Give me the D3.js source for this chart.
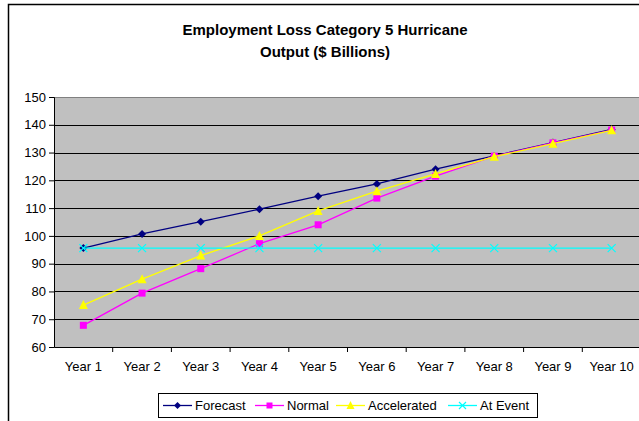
<!DOCTYPE html>
<html>
<head>
<meta charset="utf-8">
<script src="https://cdn.jsdelivr.net/npm/d3@7"></script>
<style>
  body { margin: 0; background: #fff; }
  svg { display: block; font-family: Arial, "Liberation Sans", sans-serif; }
</style>
</head>
<body>
<svg id="chart" width="639" height="421"></svg>
<script>
// chart data
const years = ["Year 1", "Year 2", "Year 3", "Year 4", "Year 5", "Year 6", "Year 7", "Year 8", "Year 9", "Year 10"];
const forecast = [95.6, 100.7, 105.1, 109.6, 114.3, 118.7, 124.0, 128.8, 133.6, 138.3];
const normal = [67.8, 79.4, 88.2, 97.2, 104.0, 113.6, 121.5, 128.7, 133.5, 138.1];
const accelerated = [75.1, 84.4, 92.9, 100.0, 109.0, 116.1, 122.3, 128.5, 133.2, 138.0];
const atEvent = [95.6, 95.6, 95.6, 95.6, 95.6, 95.6, 95.6, 95.6, 95.6, 95.6];
const yTicks = [60, 70, 80, 90, 100, 110, 120, 130, 140, 150];

const series = [
    {name: "Forecast", values: forecast, color: "#000080", symbol: "diamond"},
    {name: "Normal", values: normal, color: "#FF00FF", symbol: "square"},
    {name: "Accelerated", values: accelerated, color: "#FFFF00", symbol: "triangle"},
    {name: "At Event", values: atEvent, color: "#00FFFF", symbol: "cross"}
];

const svg = d3.select("#chart");
const margin = {top: 97, right: -2, bottom: 74, left: 54};
const width = 639, height = 421;
const font = "Arial, 'Liberation Sans', sans-serif";

// outer chart frame (chart continues off the right/bottom edge)
svg.append("path")
    .attr("d", "M8.5,421 V4.5 H640")
    .attr("fill", "none")
    .attr("stroke", "#000")
    .attr("stroke-width", 1.5);

const x = d3.scaleBand()
    .domain(years)
    .range([margin.left, width - margin.right]);

const y = d3.scaleLinear()
    .domain([60, 150])
    .range([height - margin.bottom, margin.top]);

// plot area
svg.append("rect")
    .attr("x", margin.left)
    .attr("y", margin.top)
    .attr("width", width - margin.right - margin.left)
    .attr("height", height - margin.bottom - margin.top)
    .attr("fill", "#C0C0C0");

// gridlines
svg.append("g")
    .selectAll("line")
    .data(yTicks.filter(d => d > 60))
    .enter().append("line")
    .attr("x1", margin.left)
    .attr("x2", width)
    .attr("y1", d => Math.round(y(d)) + 0.5)
    .attr("y2", d => Math.round(y(d)) + 0.5)
    .attr("stroke", d => d === 150 ? "#808080" : "#000")
    .attr("stroke-width", 1);

// axes
const yAxis = d3.axisLeft(y).tickValues(yTicks).tickSize(5).tickPadding(3);
const gy = svg.append("g")
    .attr("transform", `translate(${margin.left},0)`)
    .call(yAxis);
gy.select(".domain").attr("stroke", "#000");
gy.selectAll("text").attr("font-size", 13).attr("fill", "#000").attr("font-family", font);

const xAxis = d3.axisBottom(x).tickSize(0).tickPadding(15);
const gx = svg.append("g")
    .attr("transform", `translate(0,${height - margin.bottom})`)
    .call(xAxis);
gx.select(".domain").attr("stroke", "#000");
gx.selectAll("text").attr("font-size", 13).attr("fill", "#000").attr("font-family", font);

// tick marks between categories
gx.append("g")
    .selectAll("line")
    .data(years.slice(1))
    .enter().append("line")
    .attr("x1", d => x(d))
    .attr("x2", d => x(d))
    .attr("y1", 0)
    .attr("y2", 5)
    .attr("stroke", "#000");

const cx = d => x(d) + x.bandwidth() / 2;

const line = d3.line()
    .x((d, i) => cx(years[i]))
    .y(d => y(d));

function drawMarker(g, symbol, color, px, py, s) {
    if (symbol === "diamond") {
        g.append("path")
            .attr("d", `M${px},${py - s} L${px + s},${py} L${px},${py + s} L${px - s},${py} Z`)
            .attr("fill", color);
    } else if (symbol === "square") {
        g.append("rect")
            .attr("x", px - s + 0.5).attr("y", py - s + 0.5)
            .attr("width", 2 * s - 1).attr("height", 2 * s - 1)
            .attr("fill", color);
    } else if (symbol === "triangle") {
        g.append("path")
            .attr("d", `M${px},${py - s - 1} L${px + s + 0.5},${py + s} L${px - s - 0.5},${py + s} Z`)
            .attr("fill", color);
    } else if (symbol === "cross") {
        g.append("path")
            .attr("d", `M${px - s},${py - s} L${px + s},${py + s} M${px - s},${py + s} L${px + s},${py - s}`)
            .attr("stroke", color)
            .attr("stroke-width", 1.2)
            .attr("fill", "none");
    }
}

series.forEach(s => {
    const g = svg.append("g");
    g.append("path")
        .datum(s.values)
        .attr("d", line)
        .attr("fill", "none")
        .attr("stroke", s.color)
        .attr("stroke-width", 1.3);
    s.values.forEach((v, i) => drawMarker(g, s.symbol, s.color, cx(years[i]), y(v), 4));
});

// title
const title = svg.append("text")
    .attr("x", 325)
    .attr("y", 35)
    .attr("text-anchor", "middle")
    .attr("font-size", 15)
    .attr("font-weight", "bold");
title.append("tspan").attr("x", 325).text("Employment Loss Category 5 Hurricane");
title.append("tspan").attr("x", 325).attr("dy", 22).text("Output ($ Billions)");

// legend
const legend = svg.append("g");
legend.append("rect")
    .attr("x", 158.5)
    .attr("y", 393.5)
    .attr("width", 379)
    .attr("height", 24)
    .attr("fill", "#fff")
    .attr("stroke", "#000");

const legendX = [163, 255, 336, 448];
series.forEach((s, i) => {
    const lx = legendX[i], ly = 405.5;
    legend.append("line")
        .attr("x1", lx).attr("x2", lx + 29)
        .attr("y1", ly).attr("y2", ly)
        .attr("stroke", s.color)
        .attr("stroke-width", 1.3);
    drawMarker(legend, s.symbol, s.color, lx + 14.5, ly, 3.5);
    legend.append("text")
        .attr("x", lx + 32)
        .attr("y", ly + 4.5)
        .attr("font-size", 13)
        .text(s.name);
});
</script>
</body>
</html>
